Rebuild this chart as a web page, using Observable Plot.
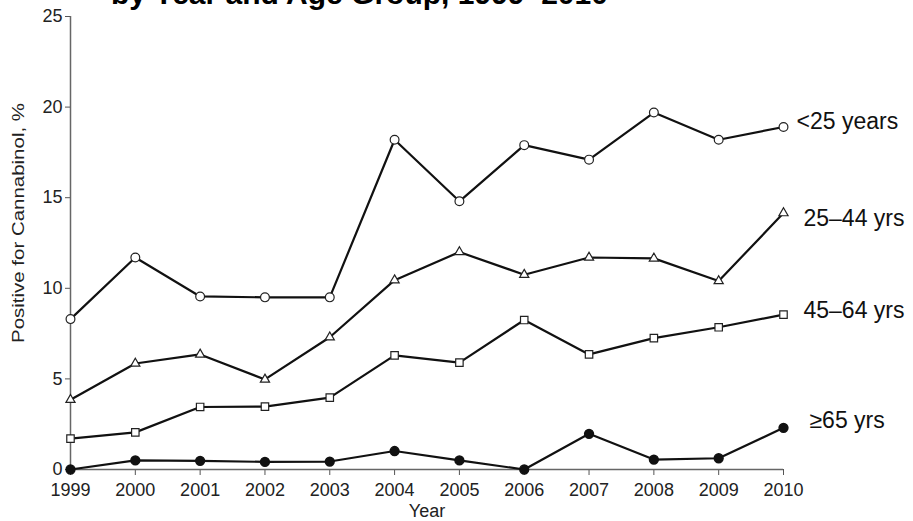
<!DOCTYPE html>
<html>
<head>
<meta charset="utf-8">
<script src="https://cdn.jsdelivr.net/npm/d3@7"></script>
<script src="https://cdn.jsdelivr.net/npm/@observablehq/plot@0.6"></script>
<style>
  body { margin: 0; background: #fff; }
  #wrap { position: relative; width: 913px; height: 521px; overflow: hidden; }
  #chart { position: absolute; left: 0; top: 0; }
  #title { position: absolute; left: 111px; top: -21px; z-index: 2; white-space: nowrap;
           font: bold 30px "Liberation Sans", Arial, sans-serif; color: #000; line-height: 30px; }
</style>
</head>
<body>
<div id="wrap">
  <div id="chart"></div>
  <div id="title">by Year and Age Group, 1999–2010</div>
</div>
<script>
const years = [1999, 2000, 2001, 2002, 2003, 2004, 2005, 2006, 2007, 2008, 2009, 2010];
const under25 = [8.3, 11.7, 9.55, 9.5, 9.5, 18.2, 14.8, 17.9, 17.1, 19.7, 18.2, 18.9];
const age25to44 = [3.85, 5.85, 6.35, 4.97, 7.3, 10.45, 12.0, 10.75, 11.7, 11.65, 10.4, 14.15];
const age45to64 = [1.7, 2.05, 3.45, 3.47, 3.97, 6.3, 5.9, 8.25, 6.35, 7.25, 7.85, 8.55];
const age65plus = [0, 0.5, 0.48, 0.42, 0.44, 1.02, 0.5, 0, 1.97, 0.55, 0.62, 2.3];
const seriesNames = ["<25 years", "25–44 yrs", "45–64 yrs", "≥65 yrs"];
const yTicks = [0, 5, 10, 15, 20, 25];
const yLabel = "Positive for Cannabinol, %";
const xLabel = "Year";

const seriesValues = [under25, age25to44, age45to64, age65plus];
const rows = seriesNames.flatMap((name, s) =>
  years.map((year, i) => ({series: name, year, value: seriesValues[s][i]})));
const bySeries = name => rows.filter(d => d.series === name);
const last = name => rows.filter(d => d.series === name && d.year === years[years.length - 1]);

const font = '"Liberation Sans", Arial, Helvetica, sans-serif';
const lineColor = "#111";

const chart = Plot.plot({
  width: 913,
  height: 521,
  marginLeft: 70,
  marginRight: 130,
  marginTop: 16,
  marginBottom: 52,
  style: {fontFamily: font, color: "#222", background: "transparent"},
  x: {domain: [years[0], years[years.length - 1]]},
  y: {domain: [0, 25]},
  marks: [
    Plot.axisX({ticks: years, tickFormat: d => String(d), tickSize: 6, tickPadding: 8, fontSize: 18,
                label: null, stroke: "#555"}),
    Plot.axisY({ticks: yTicks, tickSize: 5, tickPadding: 3, fontSize: 18, label: null, stroke: "#555"}),
    Plot.ruleY([0], {x1: years[0], x2: years[years.length - 1], stroke: "#666", strokeWidth: 1.5}),
    Plot.ruleX([years[0]], {y1: 0, y2: 25, stroke: "#666", strokeWidth: 1.5}),
    Plot.text([xLabel], {frameAnchor: "bottom", lineAnchor: "middle", dy: 42, fontSize: 18, fill: "#222"}),
    Plot.text([yLabel], {frameAnchor: "left", rotate: -90, textAnchor: "start", dx: -52, dy: 100, fontSize: 17, fill: "#222"}),
    ...seriesNames.map(name => Plot.line(bySeries(name), {x: "year", y: "value", stroke: lineColor, strokeWidth: 2.2})),
    Plot.dot(bySeries(seriesNames[0]), {x: "year", y: "value", symbol: "circle", r: 4.4, fill: "white", stroke: "#222", strokeWidth: 1.2}),
    Plot.dot(bySeries(seriesNames[1]), {x: "year", y: "value", symbol: "triangle", r: 3.4, fill: "white", stroke: "#222", strokeWidth: 1.2}),
    Plot.dot(bySeries(seriesNames[2]), {x: "year", y: "value", symbol: "square", r: 4.2, fill: "white", stroke: "#222", strokeWidth: 1.2}),
    Plot.dot(bySeries(seriesNames[3]), {x: "year", y: "value", symbol: "circle", r: 4.4, fill: "#111", stroke: "#111"}),
    Plot.text(last(seriesNames[0]), {x: "year", y: "value", text: "series", textAnchor: "start", dx: 13, dy: -5, fontSize: 23, fill: "#111"}),
    Plot.text(last(seriesNames[1]), {x: "year", y: "value", text: "series", textAnchor: "start", dx: 20, dy: 6, fontSize: 23, fill: "#111"}),
    Plot.text(last(seriesNames[2]), {x: "year", y: "value", text: "series", textAnchor: "start", dx: 20, dy: -4, fontSize: 23, fill: "#111"}),
    Plot.text(last(seriesNames[3]), {x: "year", y: "value", text: "series", textAnchor: "start", dx: 26, dy: -7, fontSize: 23, fill: "#111"})
  ]
});
document.getElementById("chart").appendChild(chart);
for (const t of chart.querySelectorAll("text")) {
  if (t.textContent === yLabel) {
    t.setAttribute("textLength", 240);
    t.setAttribute("lengthAdjust", "spacingAndGlyphs");
  }
}
</script>
</body>
</html>
